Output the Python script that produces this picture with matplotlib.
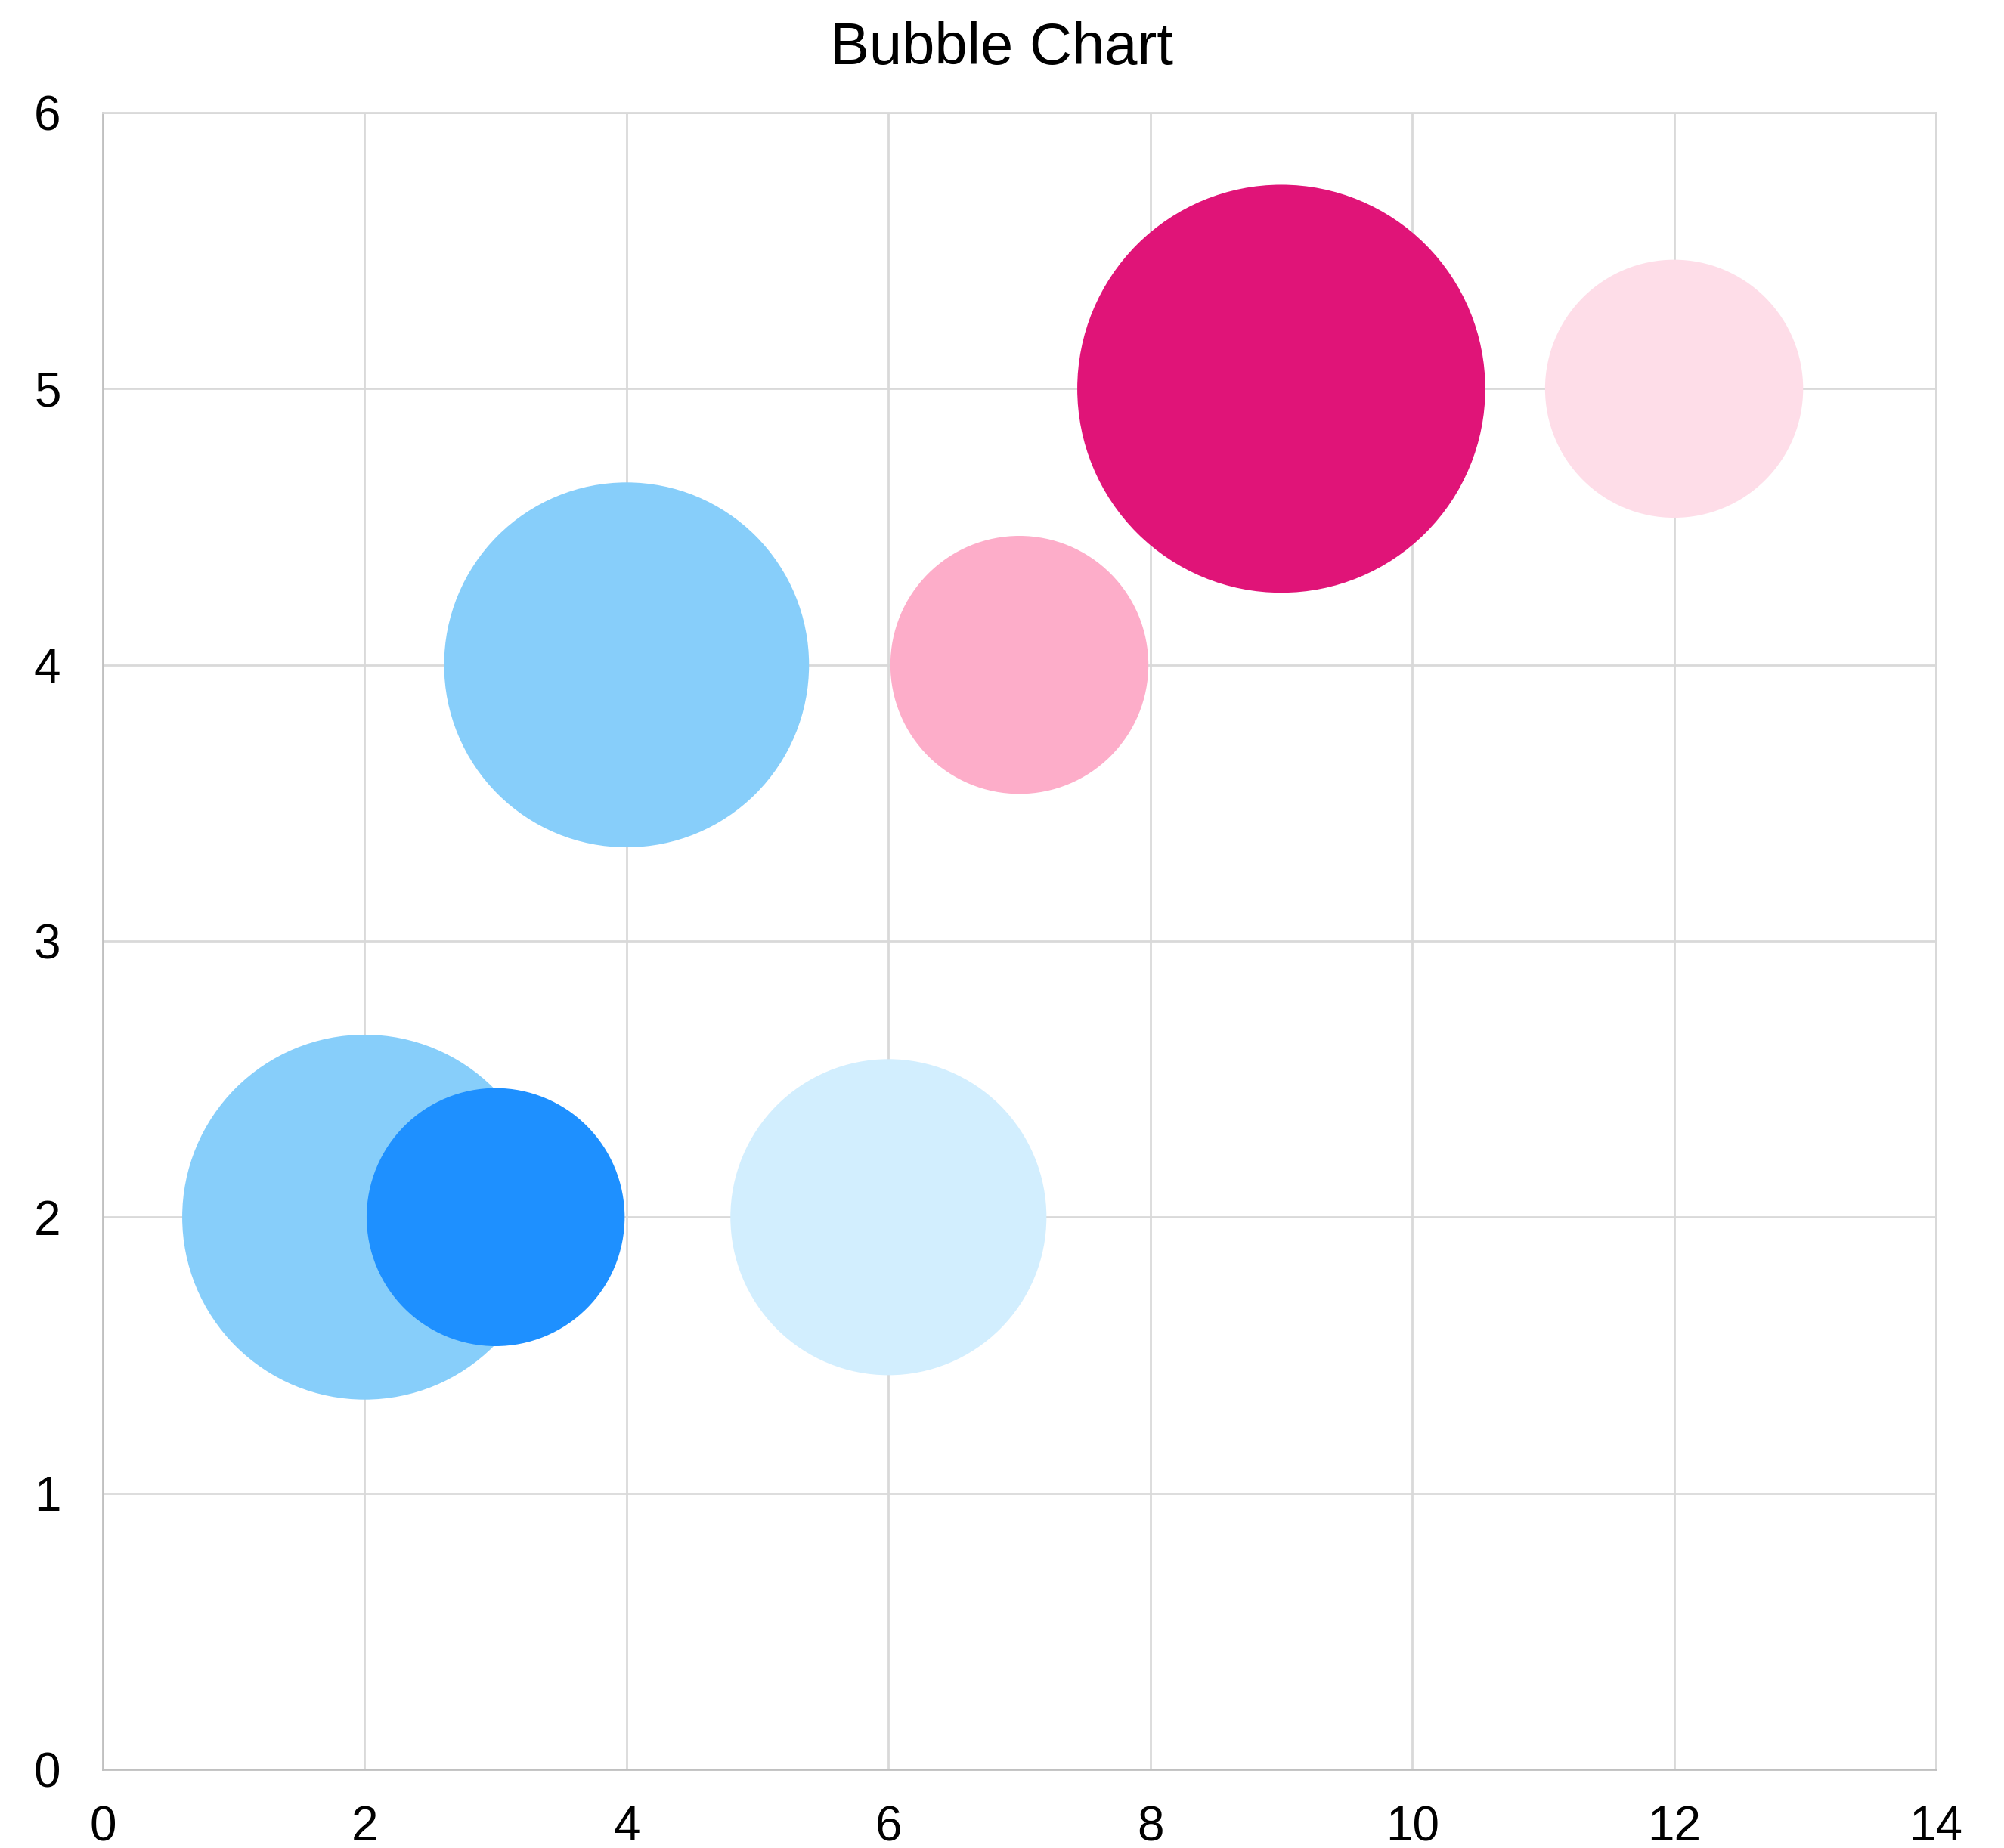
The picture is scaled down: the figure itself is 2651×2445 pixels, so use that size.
import matplotlib.pyplot as plt

plt.rcParams['font.family'] = ['Liberation Sans', 'DejaVu Sans']

# data
x_vals = [2, 3, 6, 4, 7, 9, 12]
y_vals = [2, 2, 2, 4, 4, 5, 5]
sizes = [4, 2, 3, 4, 2, 5, 2]
colors = ['#87CEFA', '#1E90FF', '#D2EEFE', '#87CEFA', '#FDADC9', '#E01478', '#FEDDE8']
x_ticks = [0, 2, 4, 6, 8, 10, 12, 14]
y_ticks = [0, 1, 2, 3, 4, 5, 6]

fig = plt.figure(figsize=(13.255, 12.225), dpi=200)
ax = fig.add_axes([136 / 2651, 1 - 2341 / 2445, (2561 - 136) / 2651, (2341 - 149) / 2445])

ax.scatter(x_vals, y_vals, s=[v * 7550 for v in sizes], c=colors,
           linewidths=0, zorder=3)

ax.set_xlim(0, 14)
ax.set_ylim(0, 6)
ax.set_xticks(x_ticks)
ax.set_yticks(y_ticks)
ax.grid(True, color='#d9d9d9', linewidth=1.0, zorder=0)
ax.tick_params(length=0, labelsize=23, colors='black')
ax.tick_params(axis='x', pad=17)
ax.tick_params(axis='y', pad=20)

for side in ['top', 'right']:
    ax.spines[side].set_color('#d9d9d9')
for side in ['left', 'bottom']:
    ax.spines[side].set_color('#c0c0c0')
for sp in ax.spines.values():
    sp.set_linewidth(1.0)

# titel in der Mitte der ganzen Figur
fig.suptitle('Bubble Chart', fontsize=28, x=0.5, y=1 - 85 / 2445, va='baseline')

fig.savefig('out.png', dpi=200)
